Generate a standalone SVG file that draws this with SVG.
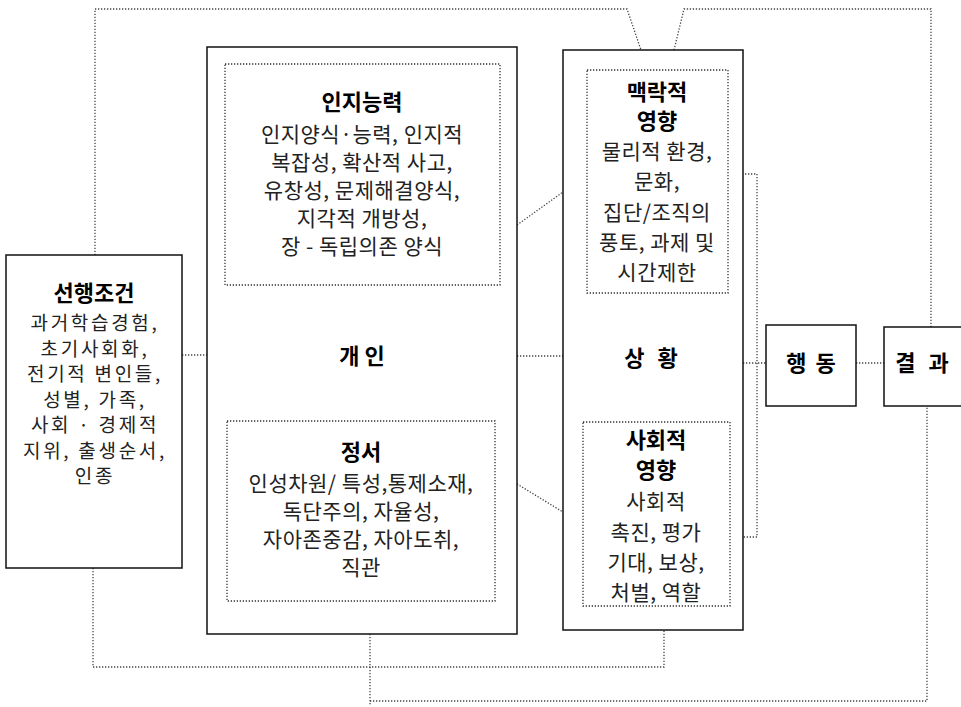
<svg xmlns="http://www.w3.org/2000/svg" width="961" height="707" viewBox="0 0 961 707">
<style>
.box{fill:#fff;stroke:#111;stroke-width:1.5}
.inner{fill:none;stroke:#333;stroke-width:1.3;stroke-dasharray:1.3 1.7}
.conn{fill:none;stroke:#444;stroke-width:1.3;stroke-dasharray:1.3 1.7}
.t{font-family:"Noto Sans CJK KR","Noto Sans",sans-serif;font-size:21px;fill:#222;text-anchor:middle;letter-spacing:0.5px}
.s{font-family:"Noto Sans CJK KR","Noto Sans",sans-serif;font-size:19px;fill:#222;text-anchor:middle;letter-spacing:2.7px}
.b{font-family:"Noto Sans CJK KR","Noto Sans",sans-serif;font-size:22px;font-weight:bold;fill:#000;text-anchor:middle}
</style>
<rect width="961" height="707" fill="#fff"/>
<g id="connectors">
<polyline class="conn" points="95,255 95,9 627,9 641,50"/>
<polyline class="conn" points="674,50 684,9 931,9 931,327"/>
<line class="conn" x1="182" y1="355" x2="207" y2="355"/>
<line class="conn" x1="517" y1="356" x2="563" y2="356"/>
<line class="conn" x1="517" y1="225" x2="563" y2="192"/>
<line class="conn" x1="517" y1="484" x2="563" y2="512"/>
<line class="conn" x1="743" y1="363" x2="766" y2="363"/>
<polyline class="conn" points="745,174 757,174 757,537 743,537"/>
<line class="conn" x1="856" y1="363" x2="884" y2="363"/>
<polyline class="conn" points="93,568 93,667 664,667 664,630"/>
<line class="conn" x1="370" y1="634" x2="370" y2="706"/>
<polyline class="conn" points="370,701 927,701 927,406"/>
</g>
<g id="antecedents">
<rect class="box" x="6" y="255" width="176" height="313"/>
<text class="b" x="94" y="301">선행조건</text>
<text class="s" x="95" y="330">과거학습경험,</text>
<text class="s" x="95" y="355.5">초기사회화,</text>
<text class="s" x="95" y="381">전기적 변인들,</text>
<text class="s" x="95" y="406.5">성별, 가족,</text>
<text class="s" x="95" y="432">사회 · 경제적</text>
<text class="s" x="95" y="457.5">지위, 출생순서,</text>
<text class="s" x="95" y="483">인종</text>
</g>
<g id="individual">
<rect class="box" x="207" y="47" width="310" height="587"/>
<text class="b" x="362" y="364">개 인</text>
</g>
<g id="cognition">
<rect class="inner" x="225" y="64" width="275" height="221"/>
<text class="b" x="362" y="110">인지능력</text>
<text class="t" x="362" y="142">인지양식·능력, 인지적</text>
<text class="t" x="362" y="170">복잡성, 확산적 사고,</text>
<text class="t" x="362" y="198">유창성, 문제해결양식,</text>
<text class="t" x="362" y="226">지각적 개방성,</text>
<text class="t" x="362" y="254">장 - 독립의존 양식</text>
</g>
<g id="emotion">
<rect class="inner" x="227" y="421" width="268" height="180"/>
<text class="b" x="361" y="460">정서</text>
<text class="t" x="361" y="491">인성차원/ 특성,통제소재,</text>
<text class="t" x="361" y="519">독단주의, 자율성,</text>
<text class="t" x="361" y="547">자아존중감, 자아도취,</text>
<text class="t" x="361" y="575">직관</text>
</g>
<g id="situation">
<rect class="box" x="563" y="50" width="180" height="580"/>
<text class="b" x="653" y="366" letter-spacing="4">상 황</text>
</g>
<g id="context">
<rect class="inner" x="587" y="70" width="141" height="223"/>
<text class="b" x="657" y="100">맥락적</text>
<text class="b" x="657" y="129">영향</text>
<text class="t" x="657" y="159">물리적 환경,</text>
<text class="t" x="657" y="189">문화,</text>
<text class="t" x="657" y="220">집단/조직의</text>
<text class="t" x="657" y="250">풍토, 과제 및</text>
<text class="t" x="657" y="280">시간제한</text>
</g>
<g id="social">
<rect class="inner" x="583" y="422" width="147" height="184"/>
<text class="b" x="656" y="448">사회적</text>
<text class="b" x="656" y="478">영향</text>
<text class="t" x="656" y="509">사회적</text>
<text class="t" x="656" y="540">촉진, 평가</text>
<text class="t" x="656" y="570">기대, 보상,</text>
<text class="t" x="656" y="600">처벌, 역할</text>
</g>
<g id="behavior">
<rect class="box" x="766" y="325" width="90" height="81"/>
<text class="b" x="812" y="371" letter-spacing="2">행 동</text>
</g>
<g id="outcome">
<rect class="box" x="884" y="327" width="90" height="79"/>
<text class="b" x="924" y="371" letter-spacing="4">결 과</text>
</g>
</svg>
